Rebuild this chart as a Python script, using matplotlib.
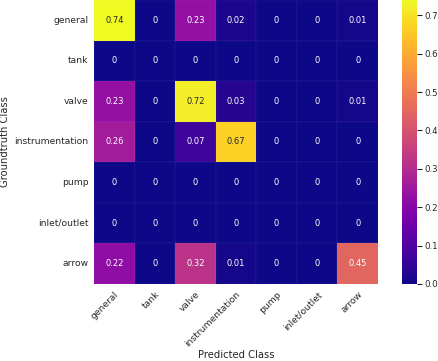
import matplotlib
matplotlib.use('Agg')
import matplotlib.pyplot as plt
import numpy as np
import seaborn as sns

####################################################
# Data
####################################################
classes = ['general', 'tank', 'valve', 'instrumentation', 'pump', 'inlet/outlet', 'arrow']

row_general         = [0.74, 0, 0.23, 0.02, 0, 0, 0.01]
row_tank            = [0, 0, 0, 0, 0, 0, 0]
row_valve           = [0.23, 0, 0.72, 0.03, 0, 0, 0.01]
row_instrumentation = [0.26, 0, 0.07, 0.67, 0, 0, 0]
row_pump            = [0, 0, 0, 0, 0, 0, 0]
row_inlet_outlet    = [0, 0, 0, 0, 0, 0, 0]
row_arrow           = [0.22, 0, 0.32, 0.01, 0, 0, 0.45]

cm = np.array([row_general, row_tank, row_valve, row_instrumentation,
               row_pump, row_inlet_outlet, row_arrow])

####################################################
# Plot
####################################################
txt = '0.15'

fig = plt.figure(figsize=(4.38, 3.61), dpi=100)
ax = fig.add_axes([0.2146, 0.2133, 0.6484, 0.7867])
cax = fig.add_axes([0.918, 0.2133, 0.034, 0.7867])

sns.heatmap(cm, ax=ax, cbar_ax=cax, cmap='plasma', annot=True, fmt='.2g',
            annot_kws={'fontsize': 6},
            linewidths=0.3, linecolor=(1, 1, 1, 0.025),
            xticklabels=classes, yticklabels=classes)

ax.set_xticklabels(classes, rotation=45, ha='right', rotation_mode='anchor',
                   fontsize=6.6, color=txt)
ax.set_yticklabels(classes, rotation=0, fontsize=6.6, color=txt)
ax.tick_params(length=0, pad=4)
ax.set_xlabel('Predicted Class', fontsize=7.2, labelpad=1, color=txt)
ax.set_ylabel('Groundtruth Class', fontsize=7.2, labelpad=3, color=txt)

cax.tick_params(labelsize=6.2, length=3.5, width=0.8, pad=2, colors=txt)
cax.yaxis.set_major_formatter(matplotlib.ticker.FormatStrFormatter('%.1f'))

plt.savefig('out.png', dpi=100)
